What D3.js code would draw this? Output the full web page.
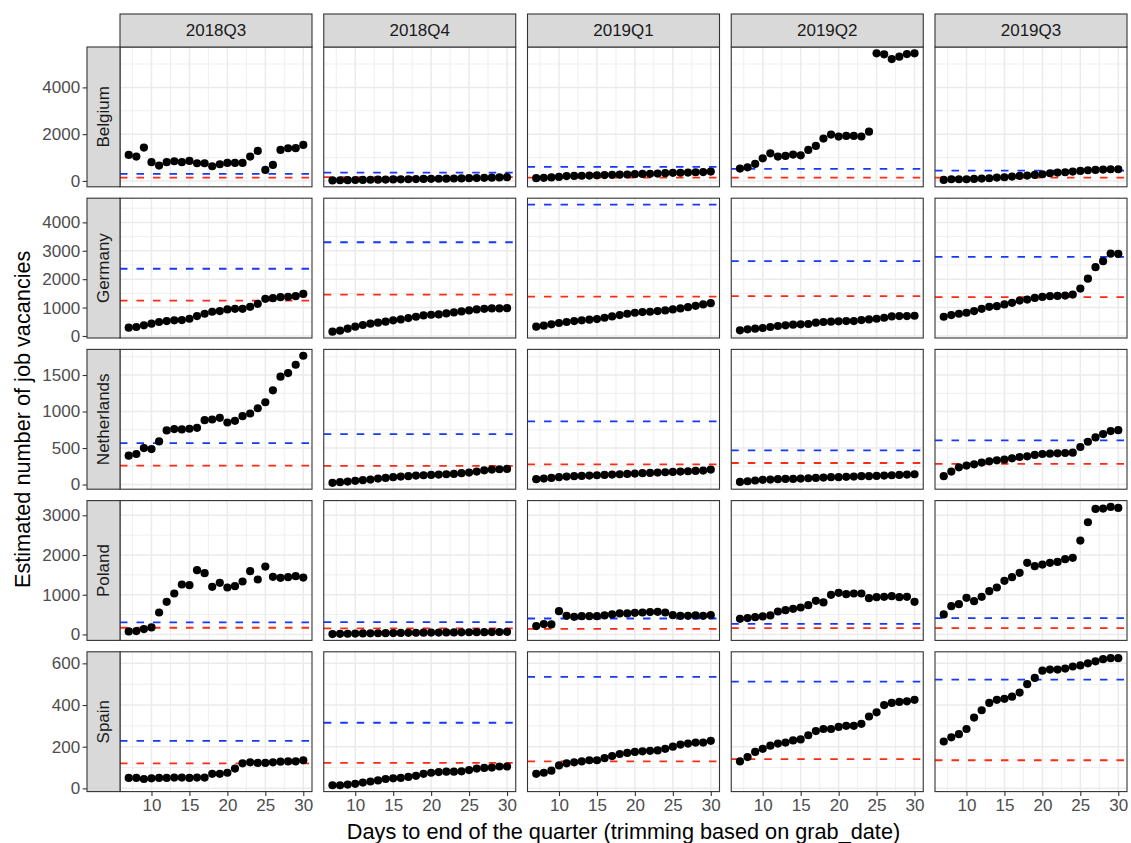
<!DOCTYPE html>
<html>
<head>
<meta charset="utf-8">
<script src="https://cdn.jsdelivr.net/npm/d3@7/dist/d3.min.js"></script>
<style>
  body { margin: 0; background: #ffffff; }
  svg text { font-family: "Liberation Sans", Arial, Helvetica, sans-serif; }
</style>
</head>
<body>
<svg id="chart" width="1131" height="843"></svg>
<script>
// ---- data -------------------------------------------------------------
const quarters  = ["2018Q3", "2018Q4", "2019Q1", "2019Q2", "2019Q3"];
const countries = ["Belgium", "Germany", "Netherlands", "Poland", "Spain"];
const days = [7, 8, 9, 10, 11, 12, 13, 14, 15, 16, 17, 18, 19, 20, 21, 22, 23, 24, 25, 26, 27, 28, 29, 30];
const xTicks = [10, 15, 20, 25, 30];

// estimated vacancies per day, one array per quarter
const belgium = [
  [1111, 1040, 1425, 800, 655, 800, 840, 800, 855, 755, 755, 628, 713, 770, 770, 770, 1040, 1282, 470, 684, 1325, 1397, 1400, 1538],
  [20, 28, 33, 38, 42, 50, 55, 58, 63, 68, 72, 78, 83, 88, 92, 97, 103, 108, 115, 122, 130, 138, 148, 158],
  [115, 130, 150, 170, 205, 215, 220, 230, 240, 250, 260, 265, 275, 290, 300, 305, 315, 330, 345, 350, 355, 370, 380, 400],
  [526, 583, 726, 968, 1182, 1040, 1068, 1125, 1096, 1325, 1496, 1809, 1980, 1895, 1923, 1923, 1900, 2108, 5456, 5413, 5213, 5313, 5427, 5456],
  [43, 71, 71, 71, 85, 100, 114, 142, 157, 185, 214, 228, 256, 285, 328, 356, 370, 399, 427, 456, 470, 484, 499, 499]
];
const germany = [
  [293, 316, 374, 432, 491, 526, 549, 561, 607, 700, 782, 852, 875, 934, 957, 957, 1027, 1132, 1307, 1330, 1365, 1377, 1400, 1481],
  [152, 187, 257, 327, 386, 432, 467, 502, 549, 584, 631, 677, 724, 747, 759, 794, 829, 864, 899, 934, 957, 969, 969, 980],
  [327, 362, 409, 456, 491, 526, 549, 572, 596, 642, 689, 736, 782, 817, 840, 852, 875, 899, 934, 969, 1015, 1062, 1109, 1155],
  [200, 235, 258, 281, 316, 351, 374, 397, 409, 421, 467, 491, 502, 514, 526, 526, 561, 584, 607, 642, 689, 700, 700, 712],
  [677, 736, 782, 817, 875, 957, 1027, 1050, 1109, 1167, 1248, 1283, 1341, 1376, 1400, 1411, 1423, 1458, 1668, 2017, 2423, 2633, 2901, 2890]
];
const netherlands = [
  [395, 418, 500, 486, 591, 741, 759, 755, 764, 777, 882, 891, 914, 850, 873, 936, 973, 1045, 1127, 1291, 1477, 1527, 1641, 1764],
  [23, 32, 41, 50, 59, 68, 82, 91, 100, 109, 114, 123, 127, 132, 136, 141, 145, 155, 164, 177, 195, 205, 209, 214],
  [73, 82, 91, 100, 109, 114, 118, 123, 127, 132, 136, 141, 145, 150, 155, 159, 164, 168, 173, 177, 182, 186, 191, 205],
  [36, 45, 55, 64, 68, 73, 77, 77, 82, 86, 91, 95, 100, 100, 105, 109, 114, 114, 118, 123, 127, 132, 136, 141],
  [114, 177, 236, 259, 277, 300, 318, 332, 341, 359, 377, 386, 405, 418, 423, 427, 432, 436, 514, 586, 645, 691, 732, 745]
];
const poland = [
  [75, 84, 134, 176, 553, 821, 1031, 1257, 1241, 1618, 1542, 1199, 1299, 1182, 1215, 1333, 1593, 1383, 1710, 1450, 1425, 1442, 1467, 1433],
  [10, 15, 18, 22, 25, 28, 30, 33, 35, 38, 40, 42, 44, 46, 48, 50, 52, 54, 55, 57, 58, 60, 62, 65],
  [210, 260, 251, 587, 469, 444, 461, 461, 461, 478, 503, 528, 528, 545, 553, 562, 570, 553, 486, 469, 469, 478, 469, 486],
  [394, 411, 436, 453, 478, 578, 612, 645, 679, 738, 847, 805, 998, 1048, 1014, 1031, 1031, 914, 939, 947, 964, 939, 947, 821],
  [503, 712, 763, 922, 838, 947, 1090, 1182, 1350, 1442, 1551, 1802, 1718, 1760, 1802, 1827, 1894, 1928, 2364, 2825, 3160, 3168, 3210, 3185]
];
const spain = [
  [50, 50, 45, 48, 50, 50, 52, 52, 50, 52, 52, 70, 70, 75, 95, 120, 125, 122, 122, 125, 128, 130, 130, 135],
  [15, 15, 18, 22, 28, 33, 38, 45, 48, 50, 55, 60, 70, 75, 78, 80, 80, 82, 88, 95, 98, 100, 105, 105],
  [70, 75, 85, 110, 120, 125, 130, 135, 135, 145, 155, 165, 170, 175, 178, 180, 182, 190, 200, 210, 215, 220, 220, 228],
  [130, 150, 175, 190, 205, 215, 220, 230, 235, 255, 275, 285, 285, 295, 300, 300, 310, 345, 365, 400, 410, 415, 418, 425],
  [225, 245, 260, 285, 340, 375, 410, 425, 430, 440, 460, 500, 530, 565, 570, 570, 575, 585, 590, 600, 610, 620, 625, 625]
];

// reference levels (dashed lines), rows = countries, columns = quarters
const blueRef = [
  [300, 355, 598, 513, 442],
  [2367, 3300, 4628, 2633, 2784],
  [568, 691, 864, 468, 605],
  [302, 310, 402, 268, 411],
  [228, 315, 535, 512, 522]
];
const redRef = [
  [141, 158, 141, 141, 142],
  [1248, 1458, 1388, 1400, 1365],
  [259, 255, 277, 295, 282],
  [168, 151, 142, 159, 159],
  [120, 122, 130, 140, 135]
];

// y tick labels per row
const yTicks = [
  [0, 2000, 4000],
  [0, 1000, 2000, 3000, 4000],
  [0, 500, 1000, 1500],
  [0, 1000, 2000, 3000],
  [0, 200, 400, 600]
];

const series = [belgium, germany, netherlands, poland, spain];

// ---- layout -------------------------------------------------------------
const svg = d3.select("#chart");
const panelLeft0 = 120, panelW = 192, gapX = 11.75;
const panelTop0 = 47, panelH = 139.8, gapY = 11.4;
const stripSize = 33;
const tickLen = 4.4;
const tickColor = "#333333";
const labelColor = "#4d4d4d";
const gridColor = "#ebebeb";
const borderColor = "#333333";
const stripFill = "#d9d9d9";
const blueCol = "#1438ff";
const redCol = "#ff2a14";

svg.append("rect").attr("width", 1131).attr("height", 843).attr("fill", "#ffffff");

const colLeft = c => panelLeft0 + c * (panelW + gapX);
const rowTop = r => panelTop0 + r * (panelH + gapY);

// x scale per column (ggplot-style 5% expansion)
const xSpan = d3.max(days) - d3.min(days);
const xDomain = [d3.min(days) - 0.05 * xSpan, d3.max(days) + 0.05 * xSpan];
const xMinor = [];
for (let i = 0; i <= xTicks.length; i++) {
  const step = xTicks[1] - xTicks[0];
  const v = (i === 0 ? xTicks[0] : xTicks[i - 1]) + (i === 0 ? -step / 2 : step / 2);
  if (v > xDomain[0] && v < xDomain[1]) xMinor.push(v);
}

countries.forEach((country, r) => {
  const top = rowTop(r);
  const rowData = series[r];
  const all = rowData.flat().concat(blueRef[r], redRef[r]);
  const lo = d3.min(all), hi = d3.max(all), pad = (hi - lo) * 0.05;
  const y = d3.scaleLinear().domain([lo - pad, hi + pad]).range([top + panelH, top]);
  const yt = yTicks[r];
  const ystep = yt[1] - yt[0];
  const yMinor = yt.map(v => v - ystep / 2).concat([yt[yt.length - 1] + ystep / 2])
    .filter(v => v > y.domain()[0] && v < y.domain()[1]);
  const yMajor = yt.filter(v => v >= y.domain()[0] && v <= y.domain()[1]);

  quarters.forEach((q, c) => {
    const left = colLeft(c);
    const x = d3.scaleLinear().domain(xDomain).range([left, left + panelW]);
    const g = svg.append("g").attr("class", "panel");

    // grid: minor then major
    g.selectAll(".xminor").data(xMinor).join("line")
      .attr("x1", d => x(d)).attr("x2", d => x(d))
      .attr("y1", top).attr("y2", top + panelH)
      .attr("stroke", gridColor).attr("stroke-width", 0.8);
    g.selectAll(".yminor").data(yMinor).join("line")
      .attr("x1", left).attr("x2", left + panelW)
      .attr("y1", d => y(d)).attr("y2", d => y(d))
      .attr("stroke", gridColor).attr("stroke-width", 0.8);
    g.selectAll(".xmajor").data(xTicks).join("line")
      .attr("x1", d => x(d)).attr("x2", d => x(d))
      .attr("y1", top).attr("y2", top + panelH)
      .attr("stroke", gridColor).attr("stroke-width", 1.5);
    g.selectAll(".ymajor").data(yMajor).join("line")
      .attr("x1", left).attr("x2", left + panelW)
      .attr("y1", d => y(d)).attr("y2", d => y(d))
      .attr("stroke", gridColor).attr("stroke-width", 1.5);

    // reference lines
    [[blueRef[r][c], blueCol], [redRef[r][c], redCol]].forEach(([v, col]) => {
      g.append("line")
        .attr("x1", left).attr("x2", left + panelW)
        .attr("y1", y(v)).attr("y2", y(v))
        .attr("stroke", col).attr("stroke-width", 1.8)
        .attr("stroke-dasharray", "7.5,9");
    });

    // points
    g.selectAll("circle").data(rowData[c]).join("circle")
      .attr("cx", (d, i) => x(days[i]))
      .attr("cy", d => y(d))
      .attr("r", 4.1)
      .attr("fill", "#000000");

    // panel border
    g.append("rect")
      .attr("x", left).attr("y", top).attr("width", panelW).attr("height", panelH)
      .attr("fill", "none").attr("stroke", borderColor).attr("stroke-width", 1.1);

    // column strips along the top row
    if (r === 0) {
      svg.append("rect")
        .attr("x", left).attr("y", top - stripSize).attr("width", panelW).attr("height", stripSize)
        .attr("fill", stripFill).attr("stroke", borderColor).attr("stroke-width", 1.1);
      svg.append("text")
        .attr("x", left + panelW / 2).attr("y", top - stripSize / 2)
        .attr("text-anchor", "middle").attr("dominant-baseline", "central")
        .attr("font-size", 17).attr("fill", "#1a1a1a")
        .text(q);
    }

    // x axis along the bottom row
    if (r === countries.length - 1) {
      const ax = svg.append("g")
        .attr("transform", `translate(0,${top + panelH})`)
        .call(d3.axisBottom(x).tickValues(xTicks).tickSize(tickLen).tickPadding(2.5));
      ax.select(".domain").remove();
      ax.selectAll(".tick line").attr("stroke", tickColor).attr("stroke-width", 1.1);
      ax.selectAll(".tick text").attr("fill", labelColor).attr("font-size", 17)
        .attr("font-family", '"Liberation Sans", Arial, sans-serif');
    }
  });

  // row strip at the left
  const stripX = panelLeft0 - stripSize;
  svg.append("rect")
    .attr("x", stripX).attr("y", top).attr("width", stripSize).attr("height", panelH)
    .attr("fill", stripFill).attr("stroke", borderColor).attr("stroke-width", 1.1);
  svg.append("text")
    .attr("transform", `translate(${stripX + stripSize / 2},${top + panelH / 2}) rotate(-90)`)
    .attr("text-anchor", "middle").attr("dominant-baseline", "central")
    .attr("font-size", 17).attr("fill", "#1a1a1a")
    .text(country);

  // y axis left of the strip
  const ay = svg.append("g")
    .attr("transform", `translate(${stripX},0)`)
    .call(d3.axisLeft(y).tickValues(yt).tickSize(tickLen).tickPadding(2.5).tickFormat(d3.format("d")));
  ay.select(".domain").remove();
  ay.selectAll(".tick line").attr("stroke", tickColor).attr("stroke-width", 1.1);
  ay.selectAll(".tick text").attr("fill", labelColor).attr("font-size", 17)
    .attr("font-family", '"Liberation Sans", Arial, sans-serif');
});

// axis titles
const plotLeft = panelLeft0, plotRight = colLeft(quarters.length - 1) + panelW;
const plotTop = panelTop0, plotBottom = rowTop(countries.length - 1) + panelH;
svg.append("text")
  .attr("x", (plotLeft + plotRight) / 2).attr("y", 831)
  .attr("text-anchor", "middle").attr("dominant-baseline", "central")
  .attr("font-size", 21.7).attr("fill", "#000000")
  .text("Days to end of the quarter (trimming based on grab_date)");
svg.append("text")
  .attr("transform", `translate(22,${(plotTop + plotBottom) / 2}) rotate(-90)`)
  .attr("text-anchor", "middle").attr("dominant-baseline", "central")
  .attr("font-size", 21.7).attr("fill", "#000000")
  .text("Estimated number of job vacancies");
</script>
</body>
</html>
